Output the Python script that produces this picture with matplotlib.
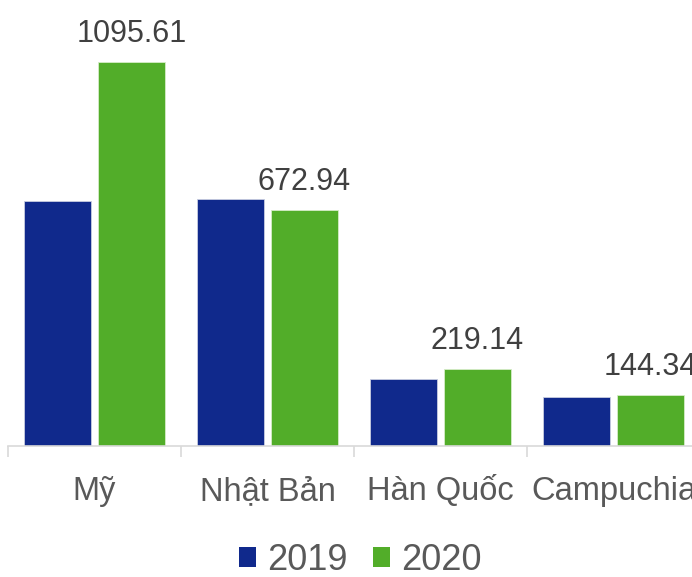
import numpy as np
import matplotlib
matplotlib.use("Agg")
import matplotlib.pyplot as plt

plt.rcParams['font.family'] = ['Liberation Sans', 'DejaVu Sans']

categories = ["Mỹ", "Nhật Bản", "Hàn Quốc", "Campuchia"]
values_2019 = [699, 705, 190, 140]
values_2020 = [1095.61, 672.94, 219.14, 144.34]
series_names = ["2019", "2020"]

blue = "#10298c"
green = "#52ad29"
label_color = "#404040"
tick_color = "#595959"

W, H = 692, 577
fig = plt.figure(figsize=(W / 100, H / 100), dpi=100)
base_y, top_y = 446, 62
ax = fig.add_axes([8 / W, (H - base_y) / H, 692 / W, (base_y - top_y) / H])

x = np.arange(len(categories))
off, bw = 0.213, 0.39
b1 = ax.bar(x - off, values_2019, bw, color=blue, edgecolor="#c8cde0", linewidth=0.6, label=series_names[0])
b2 = ax.bar(x + off, values_2020, bw, color=green, edgecolor="#d6ecc8", linewidth=0.6, label=series_names[1])

# nhãn giá trị chỉ cho năm 2020
for xi, v in zip(x + off, values_2020):
    ax.annotate(f"{v:.2f}", (xi, v), xytext=(0, 14.4), textcoords="offset points",
                ha="center", va="baseline", fontsize=22, color=label_color, annotation_clip=False)

ax.set_xlim(-0.5, 3.5)
ax.set_ylim(0, max(values_2020))
for s in ["top", "right", "left"]:
    ax.spines[s].set_visible(False)
ax.spines["bottom"].set_color("#d9d9d9")
ax.spines["bottom"].set_linewidth(1.2)
ax.set_yticks([])

ax.set_xticks(x)
ax.set_xticklabels(categories, fontsize=23.5, color=tick_color)
for t in ax.get_xticklabels():
    t.set_va("baseline")
ax.tick_params(axis="x", which="major", length=0, pad=38.9)
ax.set_xticks(np.arange(-0.5, 4.0, 1.0), minor=True)
ax.tick_params(axis="x", which="minor", length=8, width=1.2, color="#d9d9d9")

leg = fig.legend(handles=[b1, b2], labels=series_names, loc="center", bbox_to_anchor=(360 / W, (H - 560) / H),
                 ncol=2, frameon=False, fontsize=26, handlelength=0.48, handleheight=0.48,
                 handletextpad=0.3, columnspacing=0.7, labelcolor=tick_color, borderpad=0.1)
for h in leg.legend_handles:
    h.set_edgecolor("none")

fig.savefig("out.png", dpi=100)
